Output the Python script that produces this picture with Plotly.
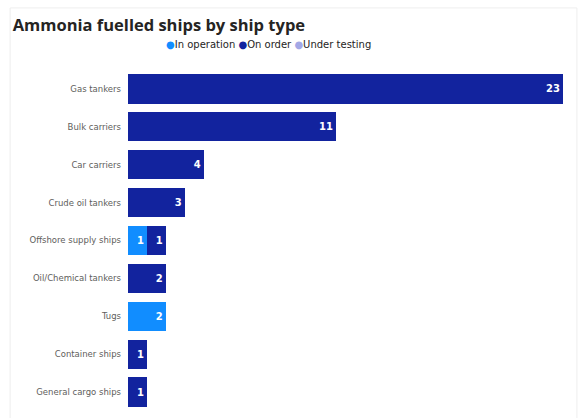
import plotly.graph_objects as go

# Ammonia fuelled ships by ship type
ship_types = [
    "Gas tankers", "Bulk carriers", "Car carriers", "Crude oil tankers",
    "Offshore supply ships", "Oil/Chemical tankers", "Tugs",
    "Container ships", "General cargo ships",
]
in_operation = [None, None, None, None, 1, None, 2, None, None]
on_order = [23, 11, 4, 3, 1, 2, None, 1, 1]
under_testing = [None] * 9

series = [
    ("In operation", in_operation, "#118DFF"),
    ("On order", on_order, "#12239E"),
    ("Under testing", under_testing, "#A3A8E6"),
]

fig = go.Figure()

for name, vals, color in series:
    fig.add_trace(go.Bar(
        y=ship_types,
        x=vals,
        name=name,
        orientation="h",
        marker=dict(color=color, line=dict(width=0)),
        texttemplate="<b>%{x}</b>",
        textposition="inside",
        insidetextanchor="end",
        textangle=0,
        constraintext="none",
        textfont=dict(color="white", size=10, family="DejaVu Sans"),
        showlegend=False,
    ))

# compact legend: coloured dot right before each label
legend_text = "&nbsp;".join(
    f"<span style='color:{color}'>●</span>{name}" for name, _, color in series
)
fig.add_annotation(
    text=legend_text, xref="paper", yref="paper",
    x=0.322, xanchor="center", y=1.075, yanchor="middle", showarrow=False,
    font=dict(family="DejaVu Sans", size=10, color="#252423"),
)

fig.update_layout(
    width=579,
    height=418,
    barmode="stack",
    bargap=0.23,
    showlegend=False,
    plot_bgcolor="white",
    paper_bgcolor="white",
    margin=dict(l=128, r=16, t=70, b=7),
    title=dict(
        text="<b>Ammonia fuelled ships by ship type</b>",
        x=0.022, xanchor="left", y=0.94, yanchor="middle",
        font=dict(family="Open Sans", size=16.5, color="#252423"),
    ),
    xaxis=dict(range=[0, 23], visible=False, showgrid=False, zeroline=False),
    yaxis=dict(
        autorange="reversed", showgrid=False, zeroline=False,
        tickfont=dict(family="DejaVu Sans", size=8.5, color="#605E5C"),
        ticks="", ticklabelstandoff=6,
    ),
    shapes=[dict(
        type="rect", xref="paper", yref="paper",
        x0=-0.271, x1=1.032, y0=-0.05, y1=1.182,
        line=dict(color="#EEEEEE", width=1), layer="below",
    )],
)

fig.write_html(
    "out.html",
    config={"displayModeBar": False},
    post_script="document.body.style.margin='0';",
)
